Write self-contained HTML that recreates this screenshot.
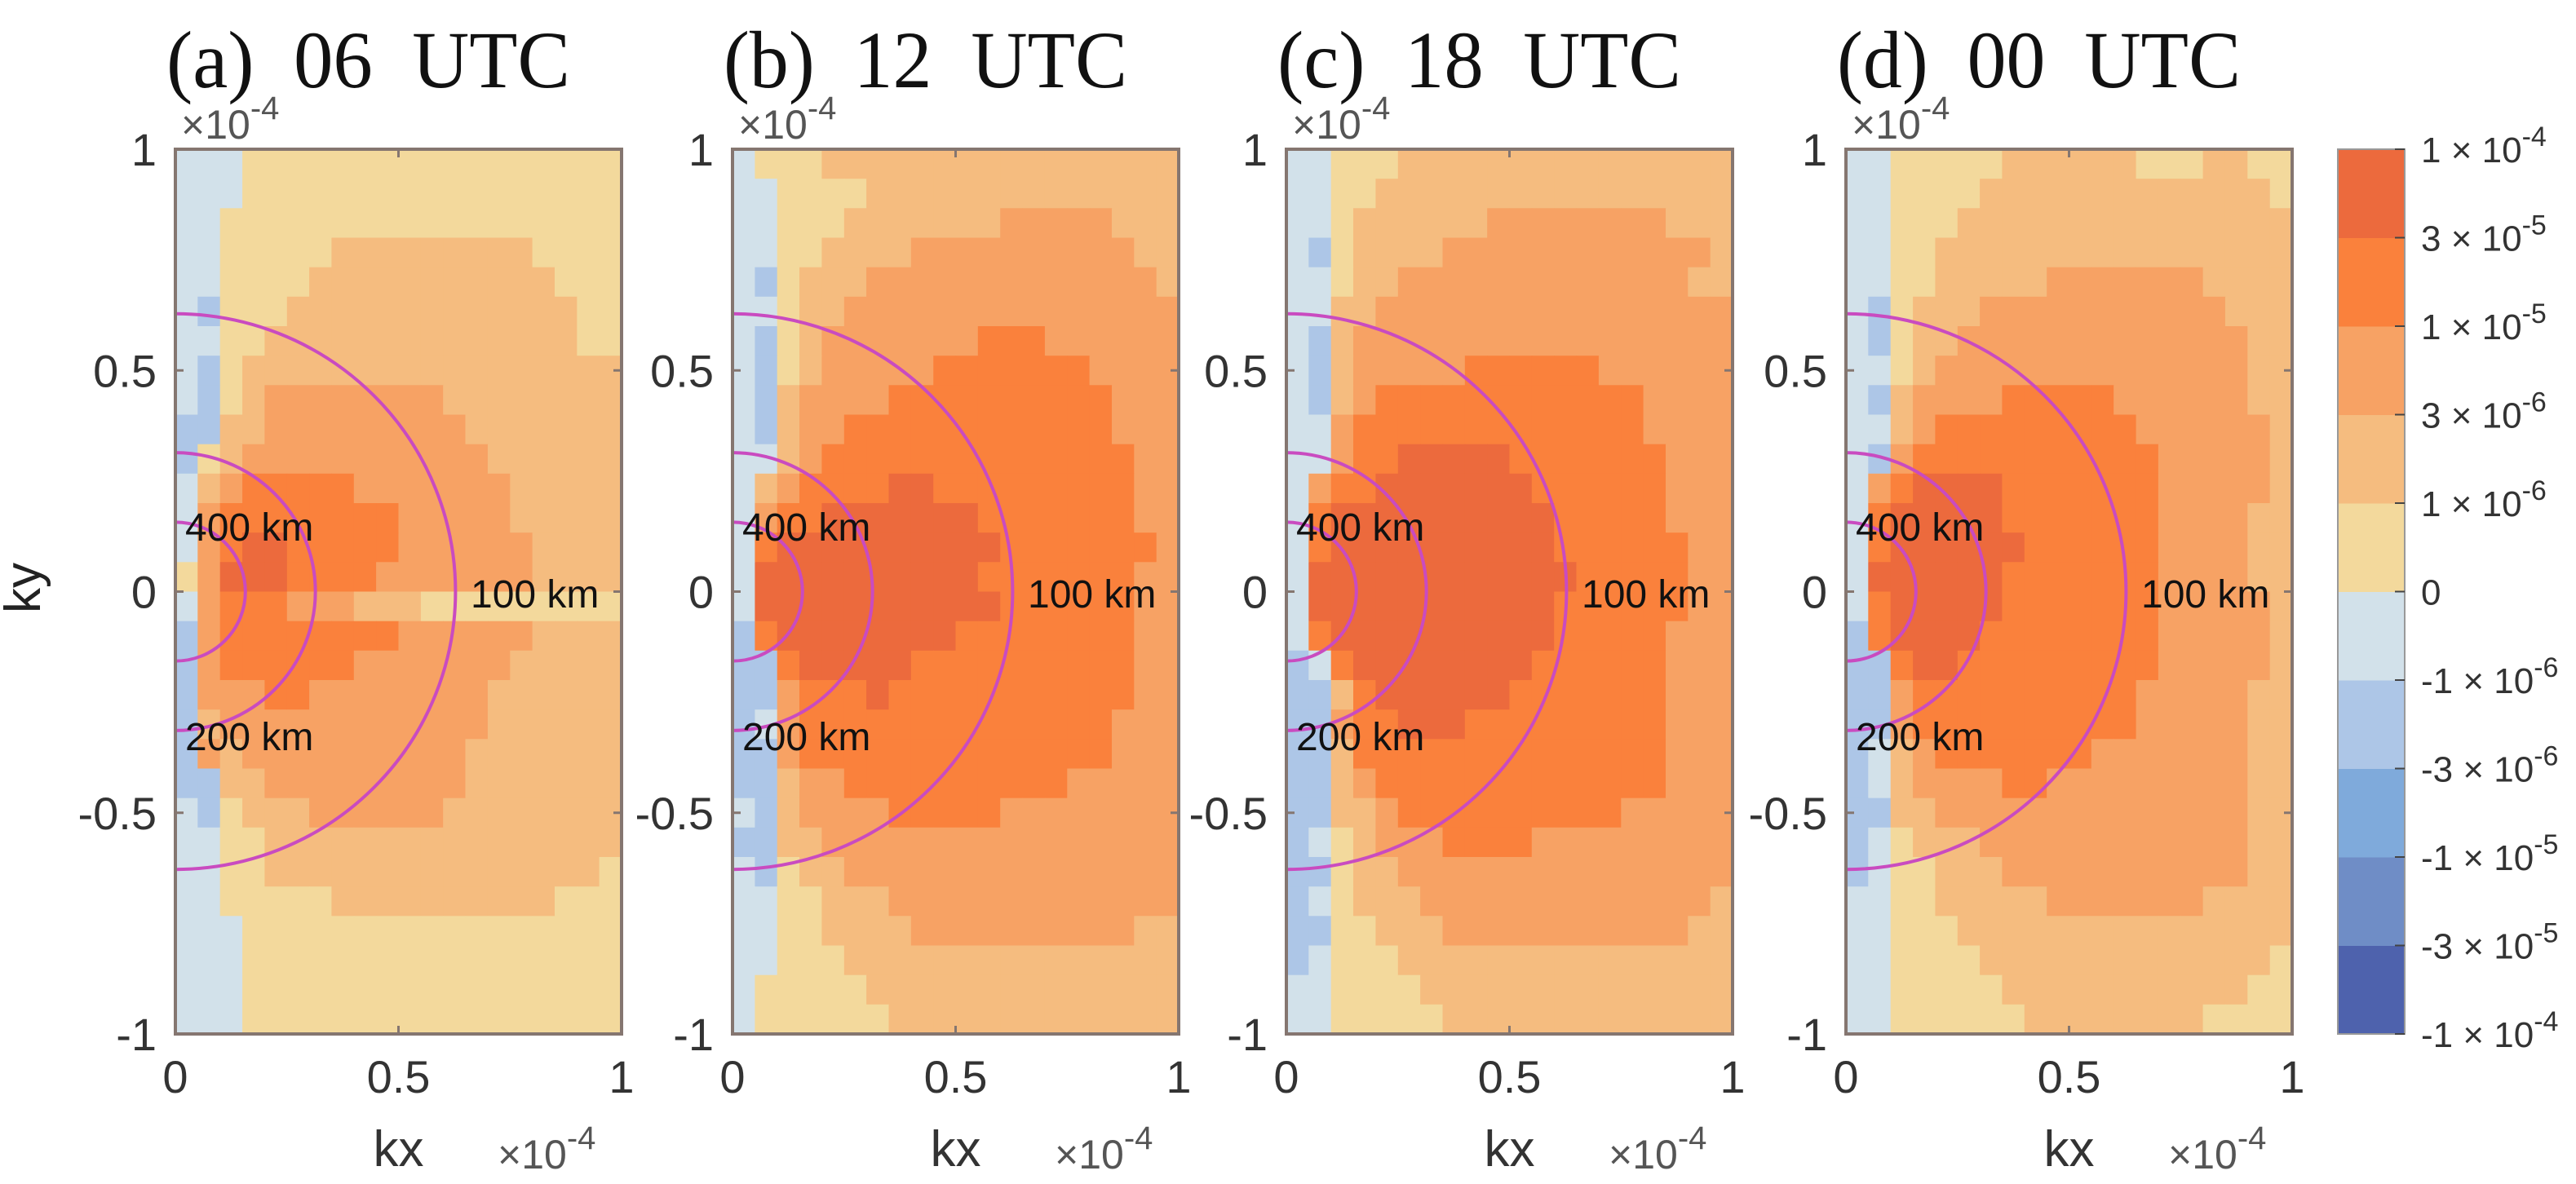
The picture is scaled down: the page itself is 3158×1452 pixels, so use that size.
<!DOCTYPE html>
<html><head><meta charset="utf-8">
<style>
html,body{margin:0;padding:0;background:#fff;}
svg{display:block;}
text{font-family:"Liberation Sans",sans-serif;}
.ttl{font-family:"Liberation Serif",serif;}
</style></head>
<body>
<svg id="fig" width="3158" height="1452" viewBox="0 0 3158 1452" xmlns="http://www.w3.org/2000/svg"></svg>
<script>
// ---- data ----
const panelTitles = ["(a)  06  UTC","(b)  12  UTC","(c)  18  UTC","(d)  00  UTC"];
const levelColors = ["#4e62ad","#6f8dc6","#7faadb","#adc6e7","#d2e1ea","#f3d99c","#f5bc7f","#f7a264","#fa813c","#ec6a3d"];
const levelLabels = [["-1","-4"],["-3","-5"],["-1","-5"],["-3","-6"],["-1","-6"],["0",""],["1","-6"],["3","-6"],["1","-5"],["3","-5"],["1","-4"]];
const xTicks = [0,0.5,1];
const yTicks = [-1,-0.5,0,0.5,1];
const xTickLabels = ["0","0.5","1"];
const yTickLabels = ["-1","-0.5","0","0.5","1"];
const circleK = [0.628,0.314,0.157];
const circleLabels = ["100 km","200 km","400 km"];
const gridA = [
"44455555555555555555","44455555555555555555","44555555555555555555","44555556666666665555",
"44555566666666666555","43555666666666666655","44556666666666666655","43566666666666666666",
"43567777777766666666","33667777777776666666","35677777777777666666","46788888777777766666",
"47888888887777766666","47899888887777776666","57999888877777776666","47888777666555555555",
"37888888887777776666","37888888777777766666","37778877777777666666","36777777777777666666",
"37677777777776666666","33667777777776666666","43566677777766666666","44556666666666666666",
"44556666666666666665","44555556666666666555","44455555555555555555","44455555555555555555",
"44455555555555555555","44455555555555555555"];
const gridB = [
"45556666666666666666","44555566666666666666","44555666666677777666","44556666777777777766",
"43566677777777777776","44566777777777777777","43567777777888777777","43567777788888887777",
"43677778888888888777","43677888888888888777","44678888888888888877","46788889988888888877",
"47889999999888888877","48999999999988888887","49999999999888888877","49999999999988888877",
"38999999998888888877","33899999888888888877","33788898888888888877","34788888888888888777",
"33788888888888888777","33677888888888877777","43677778888877777777","33667777777777777777",
"43566777777777777777","44556667777777777777","44556666777777777766","44555666666666666666",
"45555566666666666666","45555556666666666666"];
const gridC = [
"44555666666666666666","44556666666666666666","44566666677777777666","43566667777777777776",
"44566777777777777766","44667777777777777777","43677777777777777777","43677777888888777777",
"43678888888888887777","44788888888888887777","44788999998888888777","47889999999888888777",
"48999999999988888777","48999999999988888877","49999999999998888877","49999999999988888877",
"48999999999988888777","34899999999888888777","33689999998888888777","33788999888888888777",
"33688888888888888777","33678888888888888777","33667888888888877777","34567778888777777777",
"33566777777777777777","34566677777777777776","33556667777777777766","34555666666666666666",
"44555566666666666666","44555556666666666666"];
const gridD = [
"44555556666665556655","44555566666666666665","44555666666666666666","44556666666666666666",
"44556666677777776666","43566677777777777666","43566777777777777766","44567777777777777766",
"43677778888877777766","44678888888887777776","43788888888888777776","47899998888888777776",
"48999998888888777766","48999999888888777766","49999998888888777766","48999998888888777776",
"38999988888888777776","33899888888888777776","33788888888887777766","33788888888887777766",
"34678888888777777766","34677778877777777766","33667777777777777766","34566677777777777766",
"34556667777777777766","44556666677777776666","44555666666666666666","44555566666666666665",
"44555556666666666655","44555555666666665555"];
const grids = [gridA,gridB,gridC,gridD];

// ---- layout ----
const NS="http://www.w3.org/2000/svg";
const svg=document.getElementById('fig');
const panelLeft=[215,898,1577,2263];
const PW=547, PT=183, PH=1085;
const axisColor="#857670";
function mk(tag,attrs,parent){const e=document.createElementNS(NS,tag);for(const k in attrs)e.setAttribute(k,attrs[k]);(parent||svg).appendChild(e);return e;}

const defs=mk('defs',{});
panelLeft.forEach((L,i)=>{const cp=mk('clipPath',{id:'clip'+i},defs);mk('rect',{x:L,y:PT,width:PW,height:PH},cp);});

panelLeft.forEach((L,p)=>{
  const xs=v=>L+v*PW;
  const ys=v=>PT+(1-v)/2*PH;
  const g=mk('g',{});
  
  
  const grid=grids[p];
  const nr=grid.length, nc=grid[0].length;
  const hm=mk('g',{},g);
  
  
  for(let r=0;r<nr;r++){for(let c=0;c<nc;c++){
    const lv=+grid[r][c];
    const x0=xs(c/nc), x1=xs((c+1)/nc);
    const y0=ys(1-2*r/nr), y1=ys(1-2*(r+1)/nr);
    const cell=mk('rect',{x:x0.toFixed(1),y:y0.toFixed(1),width:(x1-x0+0.6).toFixed(1),height:(y1-y0+0.6).toFixed(1),fill:levelColors[lv]},hm);
    
    
  }}
  circleK.forEach((k,i)=>{
    const rx=k*PW, ry=k*PH/2, cy=ys(0);
    const path=mk('path',{d:`M${L},${cy-ry} A${rx},${ry} 0 0 1 ${L},${cy+ry}`,fill:'none',stroke:'#c94bc0','stroke-width':4,'clip-path':`url(#clip${p})`},g);
    
    
  });
  const lb=[[L+362,745,circleLabels[0]],[L+12,920,circleLabels[1]],[L+12,663,circleLabels[2]]];
  lb.forEach(a=>{const t=mk('text',{x:a[0],y:a[1],'font-size':48,fill:'#111'},g);t.textContent=a[2];
    });
  const fr=mk('rect',{x:L,y:PT,width:PW,height:PH,fill:'none',stroke:axisColor,'stroke-width':4},g);
  
  xTicks.forEach((v,i)=>{
    mk('line',{x1:xs(v),x2:xs(v),y1:PT,y2:PT+10,stroke:axisColor,'stroke-width':3},g);
    mk('line',{x1:xs(v),x2:xs(v),y1:PT+PH,y2:PT+PH-10,stroke:axisColor,'stroke-width':3},g);
    const t=mk('text',{x:xs(v),y:1340,'font-size':56,fill:'#333','text-anchor':'middle'},g);
    t.textContent=xTickLabels[i];
    
  });
  yTicks.forEach((v,i)=>{
    mk('line',{x1:L,x2:L+10,y1:ys(v),y2:ys(v),stroke:axisColor,'stroke-width':3},g);
    mk('line',{x1:L+PW,x2:L+PW-10,y1:ys(v),y2:ys(v),stroke:axisColor,'stroke-width':3},g);
    const t=mk('text',{x:L-23,y:ys(v)+20,'font-size':56,fill:'#333','text-anchor':'end'},g);
    t.textContent=yTickLabels[i];
    
  });
  const tt=mk('text',{x:L-11,y:107,'font-size':100,fill:'#111',class:'ttl',textLength:495,lengthAdjust:'spacingAndGlyphs','xml:space':'preserve'},g);
  tt.setAttribute('style','white-space:pre');
  tt.textContent=panelTitles[p];
  
  const xl=mk('text',{x:xs(0.5),y:1430,'font-size':62,fill:'#333','text-anchor':'middle'},g);
  xl.textContent='kx';
  
  const e1=mk('text',{x:L+395,y:1433,'font-size':50,fill:'#555'},g);
  e1.innerHTML='<tspan>×10</tspan><tspan dy="-24" font-size="40">-4</tspan>';
  
  const e2=mk('text',{x:L+7,y:170,'font-size':50,fill:'#555'},g);
  e2.innerHTML='<tspan>×10</tspan><tspan dy="-24" font-size="40">-4</tspan>';
  
});

const ky=mk('text',{x:49,y:721,'font-size':62,fill:'#222','text-anchor':'middle',transform:'rotate(-90 49 721)'});
ky.textContent='ky';


const CBX=2866, CBW=82;
const cb=mk('g',{});

const nL=levelColors.length, bh=PH/nL;
levelColors.forEach((c,i)=>{
  const y=PT+(nL-1-i)*bh;
  const r=mk('rect',{x:CBX,y:y,width:CBW,height:bh+0.5,fill:c},cb);
  
});
mk('rect',{x:CBX,y:PT,width:CBW,height:PH,fill:'none',stroke:'#999','stroke-width':2},cb);
levelLabels.forEach((lab,i)=>{
  const y=PT+(nL-i)*bh;
  mk('line',{x1:CBX+CBW-12,x2:CBX+CBW,y1:y,y2:y,stroke:'#444','stroke-width':2},cb);
  const t=mk('text',{x:2968,y:y+16,'font-size':44,fill:'#333'},cb);
  if(lab[1]===''){t.textContent=lab[0];}
  else{t.innerHTML='<tspan>'+lab[0]+' × 10</tspan><tspan dy="-20" font-size="34">'+lab[1]+'</tspan>';}
  
});
</script>
</body></html>
